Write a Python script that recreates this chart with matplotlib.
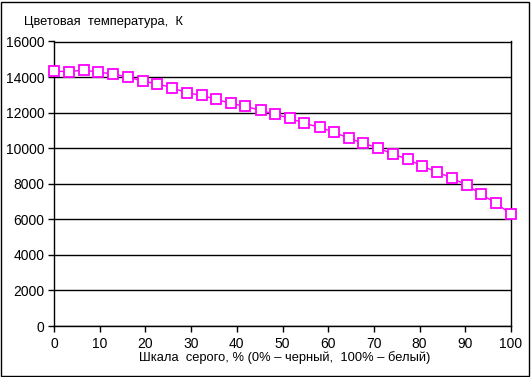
import matplotlib
matplotlib.use("Agg")
import matplotlib.pyplot as plt
from matplotlib.patches import Rectangle

plt.rcParams['font.family'] = ['Liberation Sans', 'DejaVu Sans']

gray_pct = [0, 3.2, 6.5, 9.7, 12.9, 16.1, 19.4, 22.6, 25.8, 29.0, 32.3, 35.5,
            38.7, 41.9, 45.2, 48.4, 51.6, 54.8, 58.1, 61.3, 64.5, 67.7, 71.0,
            74.2, 77.4, 80.6, 83.9, 87.1, 90.3, 93.5, 96.8, 100]
color_temp = [14330, 14310, 14390, 14280, 14170, 14000, 13775, 13620, 13400,
              13120, 12970, 12745, 12520, 12350, 12130, 11905, 11680, 11400,
              11175, 10895, 10560, 10280, 10000, 9665, 9380, 8985, 8650, 8315,
              7930, 7400, 6900, 6280]

x_ticks = [0, 10, 20, 30, 40, 50, 60, 70, 80, 90, 100]
y_ticks = [0, 2000, 4000, 6000, 8000, 10000, 12000, 14000, 16000]

title = "Цветовая  температура,  К"
xlabel = "Шкала  серого, % (0% – черный,  100% – белый)"

W, H = 531, 377
fig = plt.figure(figsize=(W / 100, H / 100), dpi=100)
fig.patch.set_facecolor('white')
fig.patches.append(Rectangle((1 / W, 1 / H), (W - 3) / W, (H - 3) / H,
                             transform=fig.transFigure, fill=False,
                             edgecolor='black', linewidth=1.0))

ax = fig.add_axes([54 / W, 1 - 326 / H, 457 / W, 284.5 / H])
ax.set_xlim(0, 100)
ax.set_ylim(0, 16000)
ax.set_xticks(x_ticks)
ax.set_yticks(y_ticks)
ax.set_xticklabels([str(v) for v in x_ticks])
ax.set_yticklabels([str(v) for v in y_ticks])
ax.tick_params(axis='both', direction='out', length=4, width=1, colors='black',
               labelsize=10, pad=3)
ax.tick_params(axis='x', pad=4)
ax.yaxis.grid(True, color='black', linewidth=1.0)
ax.set_axisbelow(True)
for s in ax.spines.values():
    s.set_color('black')
    s.set_linewidth(1.0)

ax.plot(gray_pct, color_temp, color='#FF00FF', linewidth=1.0, marker='s',
        markersize=6.8, markerfacecolor='white', markeredgecolor='#FF00FF',
        markeredgewidth=1.3, clip_on=False, zorder=3)

fig.text(24 / W, 1 - 22 / H, title, fontsize=9.3, ha='left', va='center')
fig.text(285 / W, 1 - 358 / H, xlabel, fontsize=9.3, ha='center', va='center')

fig.savefig('out.png', dpi=100)
